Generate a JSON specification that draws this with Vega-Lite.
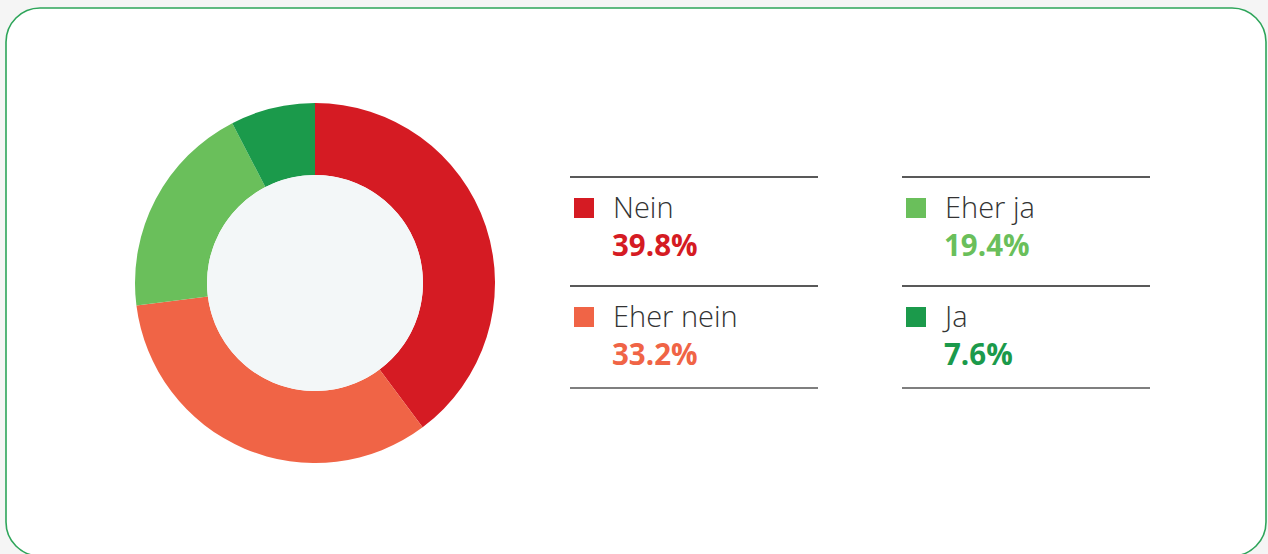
{
  "$schema": "https://vega.github.io/schema/vega-lite/v6.json",
  "width": 1260,
  "height": 548,
  "autosize": {"type": "none"},
  "padding": {"left": 6, "top": 8, "right": 2, "bottom": -2},
  "background": "#f5f5f5",
  "config": {
    "view": {"stroke": "#2ea55a", "strokeWidth": 1.6, "cornerRadius": 34, "fill": "#ffffff"},
    "text": {"font": "Open Sans"}
  },
  "data": {
    "values": [
      {"cat": "Nein", "value": 39.8, "pct": "39.8%", "idx": 1, "col": 0, "row": 0},
      {"cat": "Eher nein", "value": 33.2, "pct": "33.2%", "idx": 2, "col": 0, "row": 1},
      {"cat": "Eher ja", "value": 19.4, "pct": "19.4%", "idx": 3, "col": 1, "row": 0},
      {"cat": "Ja", "value": 7.6, "pct": "7.6%", "idx": 4, "col": 1, "row": 1}
    ]
  },
  "layer": [
    {
      "mark": {"type": "arc", "radius": 180, "radius2": 108, "stroke": null},
      "encoding": {
        "x": {"value": 309},
        "y": {"value": 275},
        "theta": {"field": "value", "type": "quantitative", "stack": true},
        "order": {"field": "idx", "type": "quantitative"},
        "color": {
          "field": "cat", "type": "nominal", "legend": null,
          "scale": {"domain": ["Nein", "Eher nein", "Eher ja", "Ja"], "range": ["#d51b23", "#f06446", "#6abf5b", "#1b9a4b"]}
        }
      }
    },
    {
      "data": {"values": [{"k": 1}]},
      "mark": {"type": "arc", "radius": 108, "theta": 0, "theta2": 6.2832, "fill": "#f3f7f8"},
      "encoding": {"x": {"value": 309}, "y": {"value": 275}}
    },
    {
      "mark": {"type": "rule", "x2Offset": 248, "color": "#222222", "strokeWidth": 1.3},
      "encoding": {
        "x": {"field": "col", "type": "quantitative", "scale": {"domain": [0, 1], "range": [564, 896]}, "axis": null},
        "x2": {"field": "col"},
        "y": {"field": "row", "type": "quantitative", "scale": {"domain": [0, 1], "range": [169, 278]}, "axis": null}
      }
    },
    {
      "transform": [{"filter": "datum.row == 1"}],
      "mark": {"type": "rule", "x2Offset": 248, "yOffset": 102, "y2Offset": 102, "color": "#555555", "strokeWidth": 1.3},
      "encoding": {
        "x": {"field": "col", "type": "quantitative"},
        "x2": {"field": "col"},
        "y": {"field": "row", "type": "quantitative"}
      }
    },
    {
      "mark": {"type": "point", "shape": "square", "filled": true, "opacity": 1, "size": 400, "xOffset": 14, "yOffset": 31},
      "encoding": {
        "x": {"field": "col", "type": "quantitative"},
        "y": {"field": "row", "type": "quantitative"},
        "color": {"field": "cat", "type": "nominal", "legend": null}
      }
    },
    {
      "mark": {"type": "text", "align": "left", "baseline": "alphabetic", "xOffset": 43, "yOffset": 41, "fontSize": 29, "fontWeight": 300, "color": "#333333"},
      "encoding": {
        "x": {"field": "col", "type": "quantitative"},
        "y": {"field": "row", "type": "quantitative"},
        "text": {"field": "cat"}
      }
    },
    {
      "mark": {"type": "text", "align": "left", "baseline": "alphabetic", "xOffset": 42, "yOffset": 79, "fontSize": 29.5, "fontWeight": "bold"},
      "encoding": {
        "x": {"field": "col", "type": "quantitative"},
        "y": {"field": "row", "type": "quantitative"},
        "text": {"field": "pct"},
        "color": {"field": "cat", "type": "nominal", "legend": null}
      }
    }
  ]
}
